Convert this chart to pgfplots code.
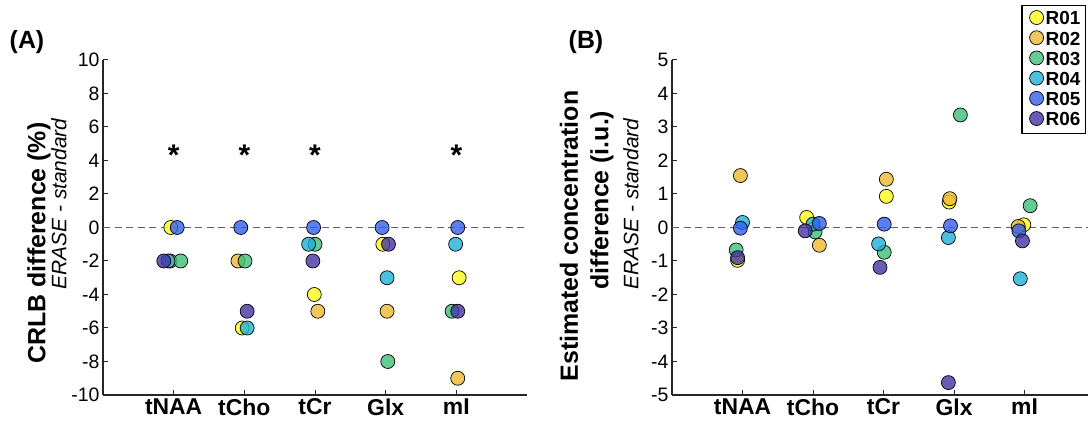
\documentclass[border=0pt]{standalone}
\usepackage{fontspec}
\setmainfont{Liberation Sans}
\usepackage{pgfplots}
\pgfplotsset{compat=1.18}

\definecolor{cR01}{RGB}{255,250,30}
\definecolor{cR02}{RGB}{237,185,50}
\definecolor{cR03}{RGB}{60,190,120}
\definecolor{cR04}{RGB}{30,175,215}
\definecolor{cR05}{RGB}{50,95,235}
\definecolor{cR06}{RGB}{70,50,165}
\definecolor{axgray}{RGB}{38,38,38}

\newcommand{\fs}[1]{\fontsize{#1}{#1}\selectfont}

\pgfplotsset{
  panel/.style={
    scale only axis, height=335bp,
    axis x line=bottom, axis y line=left,
    axis line style={-, axgray, line width=1.3bp},
    tick align=inside, major tick length=5bp,
    tick style={axgray, line width=1bp},
    xtick={1,2,3,4,5}, xticklabels={tNAA,tCho,tCr,Glx,mI},
    xticklabel style={font=\bfseries\fs{23}},
    yticklabel style={font=\fs{19.5}},
    clip=false,
  },
  rr/.style={only marks, mark=*, mark size=7bp,
    mark options={fill=#1, fill opacity=0.8, draw=black, line width=0.7bp}},
  zeroline/.style={forget plot, color=black!62, line width=1bp, dash pattern=on 7bp off 4.5bp},
}

\begin{document}
\begin{tikzpicture}
\useasboundingbox (0,0) rectangle (1088bp,426bp);

% (A) CRLB difference
\begin{axis}[panel, at={(103bp,31bp)}, anchor=south west, width=424bp,
  xmin=0, xmax=6, ymin=-10, ymax=10,
  ytick={-10,-8,-6,-4,-2,0,2,4,6,8,10},
  yticklabels={-10,-8,-6,-4,-2,0,2,4,6,8,10}]
\addplot[zeroline] coordinates {(0,0) (6,0)};
\addplot[rr=cR01] coordinates {(0.96,0) (1.97,-6) (2.99,-4) (3.96,-1) (5.04,-3)};
\addplot[rr=cR02] coordinates {(0.95,-2) (1.91,-2) (3.04,-5) (4.02,-5) (5.02,-9)};
\addplot[rr=cR03] coordinates {(1.10,-2) (2.01,-2) (3.00,-1) (4.03,-8) (4.94,-5)};
\addplot[rr=cR04] coordinates {(0.92,-2) (2.04,-6) (2.91,-1) (4.02,-3) (4.99,-1)};
\addplot[rr=cR05] coordinates {(1.05,0) (1.95,0) (2.98,0) (3.95,0) (5.02,0)};
\addplot[rr=cR06] coordinates {(0.86,-2) (2.04,-5) (2.97,-2) (4.04,-1) (5.02,-5)};
\addplot[only marks, mark=none, point meta=explicit symbolic, nodes near coords,
  every node near coord/.append style={font=\bfseries\fs{30}, anchor=center, inner sep=0pt}]
  coordinates {(1,4.3)[*] (2,4.3)[*] (3,4.3)[*] (5,4.3)[*]};
\end{axis}

% (B) estimated concentration difference
\begin{axis}[panel, at={(672bp,31bp)}, anchor=south west, width=416bp,
  xmin=0, xmax=5.9, ymin=-5, ymax=5,
  ytick={-5,-4,-3,-2,-1,0,1,2,3,4,5},
  yticklabels={-5,-4,-3,-2,-1,0,1,2,3,4,5},
  legend style={at={(rel axis cs:1,1)}, anchor=north east, xshift=-2bp, yshift=55bp,
    draw=black, line width=1.4bp, font=\bfseries\fs{19}, row sep=1.5bp,
    inner xsep=3bp, inner ysep=4bp},
  legend cell align=left,
  legend image code/.code={\path (0bp,0bp); \draw[#1] plot coordinates {(11bp,0.15em)};}]
\addplot[zeroline] coordinates {(0,0) (5.9,0)};
\addplot[rr=cR01] coordinates {(0.93,-0.98) (1.91,0.30) (3.04,0.93) (3.93,0.76) (4.99,0.08)};
\addplot[rr=cR02] coordinates {(0.97,1.55) (2.09,-0.53) (3.04,1.44) (3.94,0.86) (4.91,0.03)};
\addplot[rr=cR03] coordinates {(0.91,-0.67) (2.03,-0.13) (3.01,-0.74) (4.09,3.36) (5.08,0.65)};
\addplot[rr=cR04] coordinates {(1.00,0.15) (2.00,0.10) (2.93,-0.49) (3.92,-0.30) (4.94,-1.53)};
\addplot[rr=cR05] coordinates {(0.97,-0.02) (2.09,0.12) (3.01,0.10) (3.95,0.05) (4.92,-0.10)};
\addplot[rr=cR06] coordinates {(0.93,-0.90) (1.89,-0.10) (2.95,-1.19) (3.92,-4.63) (4.97,-0.40)};
\legend{R01,R02,R03,R04,R05,R06}
\end{axis}

% panel letters and axis titles
\node[font=\bfseries\fs{25}] at (27bp,384bp) {(A)};
\node[font=\bfseries\fs{25}] at (586bp,384bp) {(B)};
\node[rotate=90, font=\bfseries\fs{25}] at (39bp,183bp) {CRLB difference (\%)};
\node[rotate=90, font=\itshape\fs{21}] at (59bp,222bp) {ERASE - standard};
\node[rotate=90, font=\bfseries\fs{25}] at (569bp,190bp) {Estimated concentration};
\node[rotate=90, font=\bfseries\fs{25}] at (602bp,226bp) {difference (i.u.)};
\node[rotate=90, font=\itshape\fs{21}] at (631bp,222bp) {ERASE - standard};
\end{tikzpicture}
\end{document}
